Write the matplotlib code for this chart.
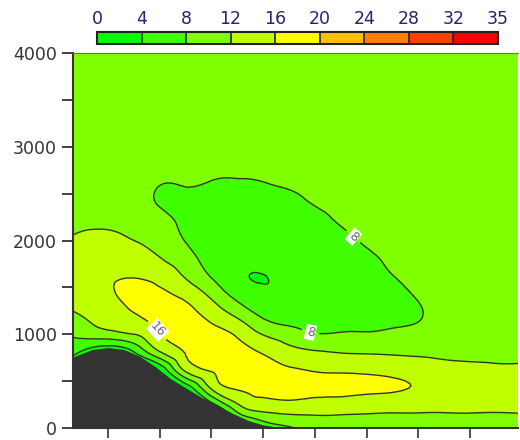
import matplotlib
matplotlib.use("Agg")
import matplotlib.pyplot as plt
import matplotlib.tri as mtri
from matplotlib.colors import ListedColormap, BoundaryNorm
from matplotlib.cm import ScalarMappable
import numpy as np

# grid of the cross-section (x: distance units, z: height in m)
x_cols = [-68, 0, 50, 100, 150, 200, 250, 300, 350, 400, 450, 500, 550, 600, 650, 700, 793]
z_rows = [0, 200, 400, 600, 800, 1000, 1200, 1400, 1600, 1800, 2000, 2200, 2400, 2600, 2800, 3400, 4000]

# wind speed, one list per column (bottom -> top)
wind_cols = [
    [-2, -2, -2, -2, 5.0, 8.6, 11.6, 13.0, 13.8, 13.6, 12.4, 11.2, 10.7, 10.5, 10.4, 10.3, 10.4],
    [-2, -2, -2, -2, 0.0, 10.5, 13.2, 15.0, 15.6, 14.8, 13.2, 11.3, 10.8, 10.5, 10.4, 10.3, 10.4],
    [-2, -2, -2, -2, 3.5, 12.0, 15.6, 17.5, 16.0, 14.0, 12.0, 10.9, 10.5, 10.4, 10.3, 10.3, 10.4],
    [-2, -2, -2, 0.0, 11.3, 15.8, 17.6, 17.0, 14.8, 12.2, 11.0, 9.8, 7.6, 8.1, 9.6, 10.2, 10.4],
    [-2, -2, 0.0, 12.0, 16.1, 18.0, 17.5, 15.3, 11.9, 9.8, 7.8, 6.8, 7.0, 8.2, 9.5, 10.2, 10.4],
    [-2, 0.0, 11.4, 16.0, 18.0, 17.5, 14.8, 11.5, 8.0, 6.2, 5.5, 5.5, 6.2, 7.7, 9.0, 10.1, 10.4],
    [-1, 9.5, 15.9, 17.8, 17.2, 15.5, 11.3, 7.0, 4.6, 4.8, 5.0, 5.2, 5.8, 7.3, 9.2, 10.1, 10.4],
    [5.0, 13.0, 17.0, 17.6, 15.8, 11.8, 7.4, 4.7, 3.95, 4.5, 4.9, 5.2, 6.0, 7.8, 9.0, 10.1, 10.4],
    [7.5, 13.6, 17.5, 16.8, 13.5, 9.8, 6.0, 4.5, 4.3, 4.5, 4.9, 5.4, 6.6, 8.5, 9.4, 10.1, 10.4],
    [9.5, 13.4, 17.0, 16.0, 12.6, 8.2, 6.0, 5.0, 4.7, 4.9, 5.3, 6.3, 8.3, 9.3, 9.8, 10.2, 10.4],
    [9.5, 13.3, 16.8, 15.8, 12.0, 8.3, 6.4, 5.6, 5.4, 5.7, 6.6, 8.4, 9.4, 9.8, 10.0, 10.2, 10.4],
    [9.5, 13.0, 16.5, 15.6, 11.8, 8.3, 6.8, 6.2, 6.3, 7.0, 8.6, 9.4, 9.8, 10.0, 10.1, 10.2, 10.4],
    [9.5, 12.8, 16.2, 15.2, 11.6, 8.6, 7.2, 7.0, 7.8, 8.8, 9.4, 9.7, 9.9, 10.0, 10.1, 10.2, 10.4],
    [9.5, 12.7, 15.6, 14.6, 11.4, 8.9, 7.8, 8.2, 9.0, 9.5, 9.8, 9.9, 10.0, 10.1, 10.1, 10.2, 10.4],
    [9.5, 12.6, 15.0, 14.0, 11.0, 9.5, 9.0, 9.3, 9.7, 9.9, 10.0, 10.0, 10.1, 10.1, 10.2, 10.2, 10.4],
    [9.5, 12.6, 14.6, 13.6, 10.8, 9.8, 9.5, 9.7, 9.9, 10.0, 10.1, 10.1, 10.1, 10.2, 10.2, 10.2, 10.4],
    [9.5, 12.6, 14.3, 13.2, 10.6, 10.0, 9.8, 9.9, 10.0, 10.1, 10.1, 10.2, 10.2, 10.2, 10.2, 10.3, 10.4],
]

# terrain profile
terrain_x = [-68, -30, 0, 30, 60, 90, 120, 150, 180, 210, 240, 270, 300, 330, 793]
terrain_h = [750, 830, 850, 830, 760, 650, 520, 420, 320, 240, 150, 75, 25, 0, 0]

levels = [0, 4, 8, 12, 16, 20, 24, 28, 32, 35]
colors = ['#00ff00', '#40ff00', '#80ff00', '#c0ff00', '#ffff00',
          '#ffc000', '#ff8000', '#ff4000', '#ff0000']

# contour label spots
label_spots = [(474, 2037), (391, 1013), (91, 1024)]

fig = plt.figure(figsize=(5.2, 4.4), dpi=100)
ax = fig.add_axes([0.1404, 0.0273, 0.8556, 0.8522])

X, Z = np.meshgrid(x_cols, z_rows)
W = np.array(wind_cols).T
tri = mtri.Triangulation(X.ravel(), Z.ravel())
interp = mtri.CubicTriInterpolator(tri, W.ravel(), kind='min_E')
refiner = mtri.UniformTriRefiner(tri)
tri_f, w_f = refiner.refine_field(W.ravel(), triinterpolator=interp, subdiv=3)

ax.tricontourf(tri_f, w_f, levels=levels, colors=colors, extend='min')
cs = ax.tricontour(tri_f, w_f, levels=[4, 8, 12, 16, 20], colors='#333333', linewidths=1.0)
lbls = ax.clabel(cs, fmt='%d', fontsize=9, colors='#666666', manual=label_spots, inline=True)
for t in lbls:
    t.set_bbox(dict(facecolor='white', edgecolor='none', pad=0.8))

ax.fill_between(terrain_x, 0, terrain_h, color='#333333', zorder=3)

ax.set_xlim(-68, 793)
ax.set_ylim(0, 4000)
ax.set_xticks(np.arange(0, 701, 100))
ax.set_xticklabels([])
ax.set_yticks(np.arange(0, 4001, 1000))
ax.set_yticks(np.arange(500, 4000, 1000), minor=True)
ax.tick_params(axis='y', which='both', length=8, width=1.3, color='#333333',
               labelsize=12.5, labelcolor='#333333')
ax.tick_params(axis='x', which='both', length=7, width=1.2, color='#333333')
ax.spines['right'].set_visible(False)
ax.spines['top'].set_color('#5a8a00')
ax.spines['top'].set_linewidth(0.8)
for s in ['left', 'bottom']:
    ax.spines[s].set_color('#333333')
    ax.spines[s].set_linewidth(1.5)

# colorbar on top
cax = fig.add_axes([0.1865, 0.9, 0.771, 0.027])
cmap = ListedColormap(colors)
norm = BoundaryNorm(levels, cmap.N)
cb = fig.colorbar(ScalarMappable(norm=norm, cmap=cmap), cax=cax, orientation='horizontal',
                  ticks=levels, spacing='uniform', drawedges=True)
cb.outline.set_linewidth(1.5)
cb.outline.set_edgecolor('#222222')
cb.dividers.set_color('#222222')
cb.dividers.set_linewidth(1.2)
cax.xaxis.set_ticks_position('top')
cax.tick_params(length=0, labelsize=12.5, labelcolor='#24246e', pad=3)

fig.savefig('out.png', dpi=100)
